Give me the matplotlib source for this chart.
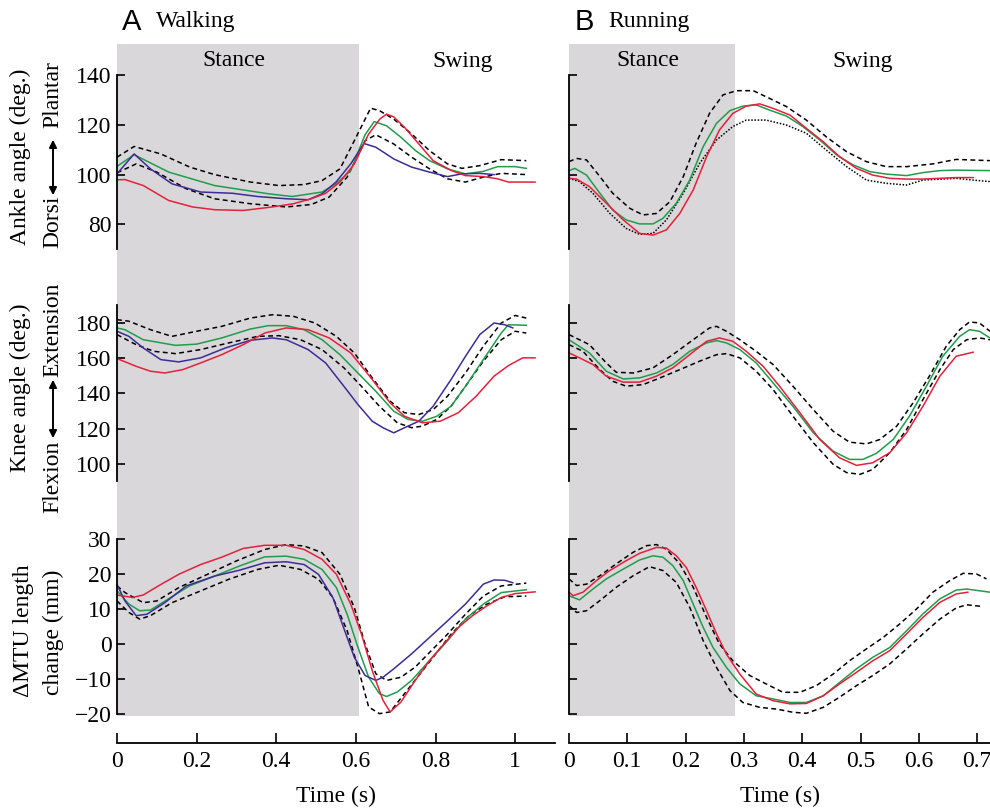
import matplotlib
matplotlib.use("Agg")
import matplotlib.pyplot as plt
from matplotlib.patches import FancyArrowPatch

plt.rcParams['font.family'] = ['Liberation Serif', 'DejaVu Serif']

# ---------------- walking: ankle angle (deg) ----------------
wa_green_t = [0, 0.043, 0.13, 0.245, 0.38, 0.44, 0.515, 0.55, 0.587, 0.623, 0.646, 0.677, 0.713, 0.75, 0.785, 0.83, 0.875, 0.92, 0.956, 1.0, 1.028]
wa_green = [103.3, 108, 101, 95.6, 92.3, 91.2, 93, 96.3, 101.6, 116, 121.3, 119.6, 115, 109.6, 105.6, 102.3, 100.3, 101.3, 103.2, 103.2, 102.5]
wa_purple_t = [0, 0.043, 0.084, 0.138, 0.21, 0.29, 0.353, 0.425, 0.48, 0.515, 0.55, 0.587, 0.62, 0.65, 0.695, 0.74, 0.785, 0.83, 0.866, 0.911, 0.947]
wa_purple = [100.3, 108.3, 102.3, 96.3, 93, 92.5, 91.2, 90.3, 89.9, 92.3, 97, 104.3, 112.5, 111, 106.3, 103, 101, 99.2, 100.3, 100.5, 100]
wa_red_t = [0, 0.02, 0.066, 0.13, 0.19, 0.245, 0.317, 0.39, 0.443, 0.488, 0.524, 0.56, 0.596, 0.632, 0.66, 0.677, 0.695, 0.722, 0.758, 0.794, 0.84, 0.875, 0.92, 0.956, 0.983, 1.05]
wa_red = [97.9, 98, 95.6, 89.6, 87, 85.9, 85.6, 87, 88.3, 90.3, 92.5, 97, 104.3, 116.3, 122.3, 124.3, 123.2, 119, 112.3, 105.6, 101.6, 99.6, 99.2, 98.3, 97, 97]
wa_upper_t = [0, 0.043, 0.11, 0.183, 0.245, 0.335, 0.407, 0.47, 0.515, 0.56, 0.596, 0.637, 0.66, 0.695, 0.74, 0.785, 0.83, 0.866, 0.911, 0.965, 1.028]
wa_upper = [107, 111.3, 108.3, 103, 100, 97, 95.6, 96, 97.6, 102.3, 113.6, 126.7, 125.6, 122.3, 116.3, 109.6, 104.3, 102.5, 103.6, 106, 105.6]
wa_lower_t = [0, 0.048, 0.1, 0.174, 0.245, 0.335, 0.425, 0.488, 0.533, 0.578, 0.623, 0.65, 0.695, 0.74, 0.785, 0.83, 0.875, 0.92, 0.965, 1.028]
wa_lower = [100.7, 104.3, 101, 94.3, 90.3, 88.3, 87, 88, 91, 99, 113.6, 116, 112.3, 107, 102.3, 98.3, 97, 99, 100.5, 100]

# ---------------- walking: knee angle (deg) ----------------
wk_green_t = [0, 0.02, 0.066, 0.147, 0.2, 0.263, 0.335, 0.38, 0.425, 0.47, 0.515, 0.56, 0.605, 0.65, 0.695, 0.731, 0.767, 0.803, 0.839, 0.875, 0.92, 0.965, 0.983, 1.028]
wk_green = [177.2, 176.2, 170.5, 167.3, 168, 171.5, 176.6, 178.5, 178.5, 176.2, 170.5, 162, 151.6, 141.2, 129.9, 125.2, 124.2, 127, 132.7, 144, 159.2, 174.3, 179, 178.7]
wk_purple_t = [0, 0.03, 0.066, 0.11, 0.155, 0.21, 0.272, 0.335, 0.39, 0.425, 0.48, 0.524, 0.57, 0.605, 0.641, 0.668, 0.695, 0.722, 0.758, 0.794, 0.839, 0.875, 0.911, 0.947, 0.974, 0.994]
wk_purple = [175.3, 172.4, 165.8, 159.2, 157.9, 160.2, 165.8, 170.2, 171.5, 170.5, 164.9, 157.3, 144, 133.7, 124.2, 120.5, 117.6, 120.5, 124.2, 132.7, 147.9, 161, 173.4, 180, 179, 177.2]
wk_red_t = [0, 0.048, 0.084, 0.12, 0.165, 0.21, 0.263, 0.317, 0.371, 0.425, 0.48, 0.533, 0.587, 0.641, 0.686, 0.722, 0.767, 0.812, 0.857, 0.902, 0.947, 0.983, 1.019, 1.05]
wk_red = [159.8, 155.4, 152.6, 151.6, 153.5, 157.3, 162, 167.7, 174.3, 177.2, 176.2, 171.5, 163, 147.9, 134.6, 127, 123.3, 124.2, 129, 138.4, 149.8, 155.8, 160.2, 160.2]
wk_upper_t = [0, 0.03, 0.084, 0.138, 0.2, 0.263, 0.335, 0.39, 0.443, 0.497, 0.551, 0.596, 0.641, 0.686, 0.722, 0.758, 0.794, 0.83, 0.875, 0.92, 0.965, 1.0, 1.028]
wk_upper = [181.9, 181, 176.2, 172.4, 175.3, 178.1, 182.8, 184.7, 183.8, 180, 172.4, 163, 148.8, 135.6, 129, 128, 130.8, 138.4, 151.6, 166.8, 180, 184.3, 182.8]
wk_lower_t = [0, 0.048, 0.093, 0.147, 0.21, 0.281, 0.353, 0.407, 0.461, 0.515, 0.57, 0.614, 0.659, 0.704, 0.74, 0.767, 0.803, 0.839, 0.875, 0.92, 0.965, 1.0, 1.028]
wk_lower = [173.4, 167.7, 163.9, 162.6, 164.9, 168.7, 172.4, 172.8, 170.5, 164.9, 154.5, 144, 132.7, 123.3, 120.5, 121.4, 125.2, 132.7, 144, 158.3, 170.5, 175.3, 174.3]

# ---------------- walking: MTU length change (mm) ----------------
wm_red_t = [0, 0.039, 0.066, 0.11, 0.155, 0.21, 0.263, 0.317, 0.371, 0.425, 0.47, 0.515, 0.551, 0.587, 0.614, 0.641, 0.668, 0.686, 0.713, 0.749, 0.785, 0.821, 0.857, 0.893, 0.929, 0.965, 1.0, 1.05]
wm_red = [14, 13.3, 14, 17, 19.9, 22.7, 24.8, 27.3, 28.2, 28.2, 27, 24.2, 19.9, 11.4, 2.8, -7.6, -16.1, -19.4, -16.6, -10.4, -4.7, 0, 4.7, 8.1, 10.9, 13.3, 14.4, 14.9]
wm_green_t = [0, 0.03, 0.057, 0.084, 0.128, 0.182, 0.245, 0.308, 0.371, 0.425, 0.47, 0.515, 0.551, 0.578, 0.605, 0.632, 0.659, 0.677, 0.704, 0.74, 0.785, 0.83, 0.875, 0.92, 0.965, 1.028]
wm_green = [15.2, 11.4, 9.5, 9.7, 12.8, 16.6, 19.4, 22.3, 24.9, 25.1, 24.2, 21.3, 16.1, 8.5, -0.9, -9.5, -14.2, -15, -13.7, -10.4, -4.7, 0.9, 7.1, 11.4, 14.7, 15.5]
wm_purple_t = [0, 0.02, 0.048, 0.075, 0.12, 0.174, 0.245, 0.308, 0.371, 0.425, 0.47, 0.506, 0.542, 0.569, 0.596, 0.623, 0.65, 0.668, 0.695, 0.74, 0.785, 0.83, 0.875, 0.92, 0.947, 0.974, 0.994]
wm_purple = [17, 12.3, 8.1, 8.5, 11.8, 16.6, 19.4, 21.1, 23.2, 23.5, 22.7, 19.9, 13.3, 4.7, -3.8, -9, -10.4, -9.5, -7.1, -2.8, 1.9, 6.6, 11.4, 17.1, 18.3, 18.2, 17.5]
wm_upper_t = [0, 0.02, 0.066, 0.1, 0.155, 0.227, 0.299, 0.371, 0.425, 0.47, 0.515, 0.56, 0.596, 0.623, 0.65, 0.677, 0.713, 0.749, 0.785, 0.83, 0.875, 0.92, 0.965, 1.028]
wm_upper = [16.6, 14.7, 11.8, 12.3, 16.1, 19.9, 23.7, 27, 28.4, 28, 26.1, 19.9, 10.4, 0, -8.5, -10.4, -9.5, -6.6, -2.4, 2.8, 8.5, 13.7, 16.6, 17.4]
wm_lower_t = [0, 0.03, 0.057, 0.084, 0.138, 0.2, 0.281, 0.353, 0.407, 0.461, 0.506, 0.542, 0.578, 0.605, 0.632, 0.659, 0.686, 0.722, 0.758, 0.794, 0.839, 0.884, 0.929, 0.974, 1.028]
wm_lower = [12.3, 9, 7.1, 8.1, 11.8, 14.7, 18.5, 21.3, 22.5, 21.3, 18.5, 13.3, 3.8, -6.6, -18, -19.9, -19.4, -14.2, -9, -3.8, 2.8, 8.1, 11.4, 13.5, 13.7]

# ---------------- running: ankle angle (deg) ----------------
ra_green_t = [0, 0.01, 0.03, 0.053, 0.075, 0.098, 0.121, 0.144, 0.161, 0.184, 0.207, 0.23, 0.253, 0.276, 0.298, 0.321, 0.344, 0.373, 0.401, 0.43, 0.459, 0.487, 0.516, 0.544, 0.579, 0.607, 0.636, 0.664, 0.722]
ra_green = [101.6, 102.5, 99.8, 92.5, 85.8, 81.8, 80.2, 80.2, 82.4, 88.5, 97.8, 111.2, 120.6, 125.7, 127.5, 128, 125.9, 123.5, 119.3, 113.9, 107.9, 103.9, 101.2, 100.2, 99.6, 100.8, 101.6, 101.8, 101.6]
ra_red_t = [0, 0.013, 0.035, 0.064, 0.093, 0.121, 0.144, 0.167, 0.19, 0.213, 0.236, 0.258, 0.281, 0.304, 0.327, 0.35, 0.379, 0.407, 0.436, 0.464, 0.493, 0.521, 0.55, 0.579, 0.607, 0.664, 0.693]
ra_red = [98.5, 98.2, 95.2, 88.5, 81.8, 76.4, 75.7, 77.8, 84.4, 93.8, 107.2, 117.9, 124.6, 127.5, 128.4, 126.6, 123.9, 118.6, 113.2, 107.2, 102.5, 99.8, 98.5, 98.2, 98.2, 98.8, 98.8]
ra_upper_t = [0, 0.013, 0.03, 0.053, 0.075, 0.104, 0.127, 0.15, 0.173, 0.196, 0.218, 0.241, 0.264, 0.287, 0.316, 0.344, 0.373, 0.407, 0.441, 0.476, 0.51, 0.544, 0.579, 0.624, 0.664, 0.722]
ra_upper = [105.2, 106.5, 105.9, 99.2, 92.5, 86.5, 83.8, 84.4, 89.1, 99.2, 112.6, 124.6, 132, 133.7, 133.7, 130.6, 127.3, 121.9, 115.2, 109.2, 105.2, 103.2, 103.2, 104.3, 106.1, 105.6]
ra_lower_t = [0, 0.018, 0.041, 0.07, 0.098, 0.121, 0.144, 0.167, 0.196, 0.224, 0.253, 0.281, 0.304, 0.338, 0.373, 0.407, 0.441, 0.476, 0.51, 0.544, 0.579, 0.607, 0.664, 0.693, 0.722]
ra_lower = [98.5, 97.2, 92.5, 84.4, 78.4, 76, 76.4, 81.8, 92.5, 104.5, 113.9, 119.3, 121.9, 121.9, 119.9, 116.6, 109.9, 103.2, 97.8, 96.5, 95.8, 97.8, 98.5, 97.8, 97.2]

# ---------------- running: knee angle (deg) ----------------
rk_green_t = [0, 0.013, 0.035, 0.064, 0.093, 0.121, 0.15, 0.178, 0.207, 0.236, 0.253, 0.27, 0.293, 0.321, 0.35, 0.384, 0.419, 0.453, 0.481, 0.504, 0.527, 0.556, 0.584, 0.613, 0.641, 0.67, 0.687, 0.704, 0.722]
rk_green = [170.5, 167.7, 163, 152.6, 148.2, 148.8, 151.6, 156.4, 163.9, 168.7, 170, 168.7, 164.9, 157.3, 146, 132.7, 117.6, 107.2, 102.5, 102.5, 105.9, 113.8, 127.1, 144.1, 161.1, 172.4, 176.2, 175.3, 171.5]
rk_red_t = [0, 0.018, 0.041, 0.064, 0.093, 0.121, 0.15, 0.178, 0.207, 0.236, 0.258, 0.281, 0.304, 0.333, 0.361, 0.396, 0.43, 0.464, 0.493, 0.521, 0.55, 0.579, 0.607, 0.636, 0.664, 0.693]
rk_red = [163, 160.2, 156.4, 149.8, 146.4, 146.4, 149.8, 154.5, 162, 169.6, 171.5, 169.6, 163.9, 155.4, 144.1, 129, 113.8, 103.4, 99.1, 100.6, 106.3, 117.6, 132.7, 149.8, 161.1, 163.4]
rk_upper_t = [0, 0.035, 0.064, 0.081, 0.11, 0.144, 0.178, 0.213, 0.241, 0.253, 0.27, 0.293, 0.321, 0.35, 0.384, 0.419, 0.453, 0.481, 0.51, 0.533, 0.562, 0.59, 0.618, 0.647, 0.67, 0.687, 0.704, 0.722]
rk_upper = [173.4, 167.7, 157.3, 152, 151.6, 154.5, 162, 170.5, 177.2, 178.1, 175.3, 170.5, 163.9, 156.4, 144.1, 130.8, 118.5, 112.3, 111.3, 113.8, 121.4, 134.6, 149.8, 166.8, 176.2, 180.6, 180, 175.3]
rk_lower_t = [0, 0.024, 0.053, 0.075, 0.098, 0.127, 0.156, 0.19, 0.224, 0.253, 0.27, 0.293, 0.321, 0.35, 0.384, 0.419, 0.453, 0.476, 0.499, 0.521, 0.55, 0.579, 0.607, 0.636, 0.659, 0.682, 0.704, 0.722]
rk_lower = [167.7, 163.9, 153.5, 146.9, 144.1, 145, 148.8, 153.5, 158.3, 162, 162.6, 160.2, 152.6, 142.2, 127.1, 112, 99.7, 95, 94, 96.8, 106.3, 119.5, 136.5, 153.5, 164.9, 170.5, 171.5, 170.5]

# ---------------- running: MTU length change (mm) ----------------
rm_red_t = [0, 0.007, 0.024, 0.047, 0.07, 0.098, 0.121, 0.15, 0.167, 0.184, 0.201, 0.218, 0.236, 0.253, 0.27, 0.293, 0.321, 0.35, 0.379, 0.407, 0.436, 0.464, 0.493, 0.521, 0.55, 0.579, 0.607, 0.636, 0.664, 0.684]
rm_red = [14.8, 13.8, 14.8, 18.1, 21, 23.8, 25.9, 27.6, 27.4, 25.2, 21.9, 16.2, 9.5, 2.9, -2.9, -8.6, -14.3, -16.2, -17.1, -17, -14.8, -11.4, -8.1, -4.8, -1.9, 2.9, 7.6, 11.9, 14.3, 14.8]
rm_green_t = [0, 0.018, 0.041, 0.064, 0.093, 0.121, 0.144, 0.161, 0.178, 0.196, 0.213, 0.23, 0.247, 0.27, 0.293, 0.321, 0.35, 0.379, 0.407, 0.436, 0.464, 0.493, 0.521, 0.55, 0.579, 0.607, 0.636, 0.664, 0.682, 0.722]
rm_green = [13.8, 12.6, 15.7, 18.6, 21.4, 24, 25.2, 24.8, 22.4, 18.1, 11.4, 4.8, -1, -6.7, -11.4, -14.8, -15.7, -16.7, -16.7, -14.8, -11, -7.1, -3.8, -1, 3.8, 8.6, 12.9, 15.4, 15.7, 14.8]
rm_upper_t = [0, 0.013, 0.03, 0.053, 0.081, 0.11, 0.133, 0.15, 0.167, 0.19, 0.213, 0.236, 0.258, 0.281, 0.31, 0.338, 0.367, 0.396, 0.424, 0.453, 0.481, 0.51, 0.539, 0.567, 0.596, 0.624, 0.653, 0.676, 0.699, 0.716]
rm_upper = [18.6, 16.7, 17.1, 19.5, 22.9, 26.2, 28.1, 28.4, 27.1, 22.9, 16.2, 7.6, 0, -4.8, -9, -11.4, -13.8, -13.8, -11.9, -8.6, -4.8, -1.4, 1.9, 5.7, 10, 14.8, 18.1, 20.2, 20, 18.6]
rm_lower_t = [0, 0.013, 0.03, 0.053, 0.081, 0.11, 0.138, 0.161, 0.184, 0.207, 0.23, 0.253, 0.276, 0.298, 0.327, 0.356, 0.384, 0.407, 0.436, 0.464, 0.493, 0.521, 0.55, 0.579, 0.607, 0.636, 0.664, 0.682, 0.71]
rm_lower = [11, 9, 9.5, 12.4, 16.2, 19.5, 22.1, 21, 17.6, 10.5, 1, -6.7, -13.3, -16.7, -18.1, -18.6, -19.5, -19.8, -18.1, -15.2, -11.9, -9, -5.7, -1.4, 2.9, 7.1, 10.3, 11.2, 10.7]

ankle_ticks = [80, 100, 120, 140]
knee_ticks = [100, 120, 140, 160, 180]
mtu_ticks = [-20, -10, 0, 10, 20, 30]
walk_xticks = [0, 0.2, 0.4, 0.6, 0.8, 1]
walk_xlabels = ['0', '0.2', '0.4', '0.6', '0.8', '1']
run_xticks = [0, 0.1, 0.2, 0.3, 0.4, 0.5, 0.6, 0.7]
run_xlabels = ['0', '0.1', '0.2', '0.3', '0.4', '0.5', '0.6', '0.7']

GREEN = '#1f9d4a'
RED = '#e5203a'
PURPLE = '#3c2c96'
GRAY = '#d9d7da'
DASH = (0, (3.2, 2.2))
DOT = (0, (1.0, 1.1))
FS = 17

W, H = 990, 809
fig = plt.figure(figsize=(9.9, 8.09), dpi=100)


def rect(x0, x1, ytop, ybot):
    return [x0 / W, 1 - ybot / H, (x1 - x0) / W, (ybot - ytop) / H]


def panel(x0, x1, xmax, ytop, ybot, ylim, yticks, labels):
    ax = fig.add_axes(rect(x0, x1, ytop, ybot))
    ax.patch.set_alpha(0)
    ax.set_xlim(0, xmax)
    ax.set_ylim(*ylim)
    for s in ['top', 'right', 'bottom']:
        ax.spines[s].set_visible(False)
    ax.spines['left'].set_linewidth(1.3)
    ax.set_xticks([])
    ax.set_yticks(yticks)
    ax.tick_params(axis='y', direction='in', length=6, width=1.2, labelsize=FS, pad=4)
    if not labels:
        ax.set_yticklabels([])
    return ax


def background(x0, x1, xmax, stance_end, xticks, xlabels, stance_x, swing_x):
    bg = fig.add_axes(rect(x0, x1, 44, 743))
    bg.set_xlim(0, xmax)
    bg.set_ylim(0, 1)
    for s in ['top', 'right', 'left']:
        bg.spines[s].set_visible(False)
    bg.spines['bottom'].set_linewidth(1.3)
    bg.set_yticks([])
    bg.set_xticks(xticks)
    bg.set_xticklabels(xlabels)
    bg.tick_params(axis='x', direction='in', length=7, width=1.2, labelsize=FS, pad=6)
    bg.axvspan(0, stance_end, ymin=27 / 699, ymax=1, color=GRAY, lw=0, zorder=0)
    bg.set_xlabel('Time (s)', fontsize=FS, labelpad=10)
    bg.text(stance_x, 1 - 17 / 699, 'Stance', fontsize=FS, ha='center', va='center')
    bg.text(swing_x, 1 - 17 / 699, 'Swing', fontsize=FS, ha='center', va='center')
    return bg


ROWS = [(75, 249.3, (70, 140), ankle_ticks),
        (305.4, 481.4, (90, 190), knee_ticks),
        (539, 714, (-20, 30), mtu_ticks)]

# left column: walking
background(117, 555, 1.1, 0.608, walk_xticks, walk_xlabels, 0.294, 0.868)
walk_data = [
    [(wa_upper_t, wa_upper, 'k', DASH), (wa_lower_t, wa_lower, 'k', DASH),
     (wa_green_t, wa_green, GREEN, '-'), (wa_purple_t, wa_purple, PURPLE, '-'), (wa_red_t, wa_red, RED, '-')],
    [(wk_upper_t, wk_upper, 'k', DASH), (wk_lower_t, wk_lower, 'k', DASH),
     (wk_green_t, wk_green, GREEN, '-'), (wk_purple_t, wk_purple, PURPLE, '-'), (wk_red_t, wk_red, RED, '-')],
    [(wm_upper_t, wm_upper, 'k', DASH), (wm_lower_t, wm_lower, 'k', DASH),
     (wm_green_t, wm_green, GREEN, '-'), (wm_purple_t, wm_purple, PURPLE, '-'), (wm_red_t, wm_red, RED, '-')],
]
for (yt, yb, ylim, ticks), curves in zip(ROWS, walk_data):
    ax = panel(117, 555, 1.1, yt, yb, ylim, ticks, True)
    for t, v, c, ls in curves:
        ax.plot(t, v, color=c, ls=ls, lw=1.1, clip_on=False)

# right column: running
background(569, 990, 0.722, 0.285, run_xticks, run_xlabels, 0.1355, 0.504)
run_data = [
    [(ra_upper_t, ra_upper, 'k', DASH), (ra_lower_t, ra_lower, 'k', DOT),
     (ra_green_t, ra_green, GREEN, '-'), (ra_red_t, ra_red, RED, '-')],
    [(rk_upper_t, rk_upper, 'k', DASH), (rk_lower_t, rk_lower, 'k', DASH),
     (rk_green_t, rk_green, GREEN, '-'), (rk_red_t, rk_red, RED, '-')],
    [(rm_upper_t, rm_upper, 'k', DASH), (rm_lower_t, rm_lower, 'k', DASH),
     (rm_green_t, rm_green, GREEN, '-'), (rm_red_t, rm_red, RED, '-')],
]
for (yt, yb, ylim, ticks), curves in zip(ROWS, run_data):
    ax = panel(569, 990, 0.722, yt, yb, ylim, ticks, False)
    for t, v, c, ls in curves:
        ax.plot(t, v, color=c, ls=ls, lw=1.1, clip_on=False)


def ftext(x, y, s, **kw):
    fig.text(x / W, 1 - y / H, s, fontsize=FS, rotation=90, ha='center', va='center', **kw)


def farrow(x, y0, y1):
    fig.patches.append(FancyArrowPatch((x / W, 1 - y1 / H), (x / W, 1 - y0 / H),
                                       transform=fig.transFigure, arrowstyle='<|-|>',
                                       mutation_scale=11, lw=1.4, color='k'))


# y labels
ftext(20, 157, 'Ankle angle (deg.)')
ftext(53, 95, 'Plantar')
farrow(53, 137, 198)
ftext(53, 222, 'Dorsi')

ftext(20, 388, 'Knee angle (deg.)')
ftext(53, 330, 'Extension')
farrow(53, 377, 441)
ftext(53, 477, 'Flexion')

ftext(23, 631, '\u0394MTU length')
ftext(53, 632, 'change (mm)')

# panel titles
fig.text(122 / W, 1 - 22 / H, 'A', fontsize=21, family='Liberation Sans', va='center', ha='left')
fig.text(156 / W, 1 - 22 / H, 'Walking', fontsize=17, va='center', ha='left')
fig.text(575 / W, 1 - 22 / H, 'B', fontsize=21, family='Liberation Sans', va='center', ha='left')
fig.text(608 / W, 1 - 22 / H, 'Running', fontsize=17, va='center', ha='left')

fig.savefig('out.png', dpi=100)
